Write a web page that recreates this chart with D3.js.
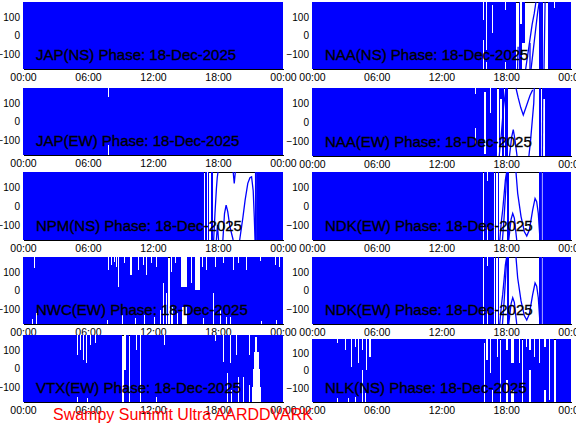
<!DOCTYPE html>
<html>
<head>
<meta charset="utf-8">
<script src="https://cdn.jsdelivr.net/npm/d3@7"></script>
<style>
  body { margin: 0; background: #fff; }
  svg { display: block; font-family: "Liberation Sans", Arial, sans-serif; }
</style>
</head>
<body>
<div id="chart"></div>
<script>
// panel names, left column top to bottom, then right column
var stations = ["JAP(NS)", "JAP(EW)", "NPM(NS)", "NWC(EW)", "VTX(EW)",
                "NAA(NS)", "NAA(EW)", "NDK(EW)", "NDK(EW)", "NLK(NS)"];
var dateLabel = "18-Dec-2025";
var xTickHours = [0, 6, 12, 18, 24];
var xTickLabels = ["00:00", "06:00", "12:00", "18:00", "00:00"];
var yTicks = [100, 0, -100];
var footer = "Swampy Summit Ultra AARDDVARK";

// where the phase trace leaves white: [startHour, endHour, lowDeg, highDeg]
var gapsJAPNS = [];
var gapsJAPEW = [[7.82, 7.9, 130, 180], [7.82, 7.9, -180, -128]];
var gapsNPMNS = [[16.72, 16.8, -180, 180], [16.95, 17.0, -180, 180], [17.2, 17.35, -180, 180],
                 [17.5, 21.58, -180, 180]];
var gapsNWCEW = [[0.84, 0.9, -180, -155], [1.02, 1.08, 119, 180], [1.23, 1.29, -180, -123],
  [7.77, 7.83, -180, -158], [7.85, 7.91, 110, 180], [8.16, 8.22, 137, 180], [8.37, 8.43, 155, 180],
  [8.62, 8.68, 128, 180], [8.77, 8.84, 21, 180], [9.17, 9.23, -180, -132], [9.3, 9.36, 146, 180],
  [9.86, 10.05, 83, 180], [10.31, 10.37, -180, -150], [10.62, 10.68, 110, 180], [11.07, 11.13, 137, 180],
  [11.14, 11.2, -180, -132], [11.39, 11.45, 83, 180], [11.85, 11.91, 146, 180], [12.07, 12.13, -180, -141],
  [12.31, 12.37, 128, 180], [12.62, 12.68, -180, -105], [12.95, 13.05, -180, 39], [13.2, 13.3, -180, -15],
  [13.4, 13.55, -180, 180], [13.7, 13.8, -180, -87], [13.7, 13.76, 100, 180], [14.0, 14.06, 146, 180],
  [14.17, 14.23, -180, -123], [14.6, 15.1, 21, 180], [14.7, 15.1, -180, -87], [15.55, 15.62, 39, 180],
  [15.85, 16.35, 3, 180], [16.48, 16.53, 128, 180], [16.63, 16.68, -180, -150], [16.93, 17.0, 110, 180],
  [17.55, 17.62, -180, -15], [17.7, 17.78, 128, 180], [18.17, 18.23, -180, -105], [18.47, 18.53, 146, 180],
  [18.77, 18.83, -180, -141], [19.08, 19.14, -180, -141], [19.4, 19.46, 110, 180], [19.85, 19.91, 146, 180],
  [20.62, 20.68, 110, 180], [21.85, 21.91, 160, 180], [22.01, 22.07, -180, -165], [23.24, 23.3, 137, 180],
  [23.39, 23.45, -180, -158], [23.64, 23.7, 128, 180]];
var gapsVTXEW = [[5.02, 5.08, 73, 180], [5.0, 5.06, -180, -151], [5.3, 5.36, 99, 180], [5.54, 5.62, 46, 180],
  [5.84, 5.9, 28, 180], [5.95, 6.0, -180, -160], [6.15, 6.21, 126, 180], [6.67, 6.73, 135, 180],
  [9.1, 9.35, -180, 180], [9.35, 9.5, -8, 180], [9.79, 9.85, -180, 180], [10.47, 10.53, 99, 180],
  [10.77, 10.83, -180, 180], [12.31, 12.37, -180, -151], [13.02, 13.08, 126, 180], [17.7, 17.76, 150, 180],
  [18.47, 18.53, 37, 180], [18.84, 18.9, -180, -26], [19.07, 19.13, 28, 180], [19.24, 19.3, -180, -116],
  [19.64, 19.72, 73, 180], [19.85, 19.91, -180, -44], [20.31, 20.37, -180, -44], [20.87, 20.95, 73, 180],
  [20.87, 20.95, -180, -89], [21.1, 21.95, -180, -100], [21.2, 21.85, -100, 0], [21.3, 21.75, 0, 90],
  [21.4, 21.6, 90, 170]];
var gapsNAANS = [[15.82, 15.9, 83, 180], [15.82, 15.9, -180, -25], [16.1, 16.2, -78, 180],
  [16.1, 16.2, -180, -140], [16.7, 16.78, 12, 164], [17.9, 17.98, 137, 180], [17.9, 17.98, -180, -140],
  [18.9, 19.2, -180, 180], [19.3, 19.45, 60, 180], [19.5, 19.7, -180, -40], [19.77, 21.07, -180, 180],
  [21.38, 21.84, -180, 180], [22.4, 22.46, 150, 180]];
var gapsNAAEW = [[15.1, 15.17, 150, 180], [15.1, 15.17, -120, -30], [15.95, 16.15, -170, 160],
  [16.45, 16.52, 46, 180], [17.1, 17.3, -180, 180], [17.45, 17.6, -180, 120], [17.75, 17.85, -180, 180],
  [18.15, 21.05, -180, 180], [21.2, 21.3, -180, 180], [21.45, 21.6, -180, 120]];
var gapsNDKEW = [[15.88, 15.96, -180, 180], [16.26, 16.32, 130, 180], [16.26, 16.32, -180, -110],
  [16.9, 17.0, -180, 180], [17.08, 17.2, -180, 180], [17.36, 18.05, -180, 180], [18.23, 21.07, -180, 180],
  [21.2, 21.26, -180, 180], [21.32, 21.38, -180, 180]];
var gapsNLKNS = [[2.35, 2.41, 155, 180], [2.35, 2.41, -180, -159], [3.06, 3.12, 117, 180], [3.62, 3.74, 22, 180],
  [3.3, 3.36, -180, -159], [4.0, 4.06, 136, 180], [4.3, 4.36, 41, 180], [4.0, 4.06, -180, -150],
  [4.65, 4.75, 117, 180], [4.65, 4.75, -180, 3], [4.97, 5.03, 3, 180], [4.92, 4.98, -180, -131],
  [5.3, 5.45, 79, 180], [15.93, 16.0, -180, 155], [16.15, 16.28, 60, 180], [16.45, 16.5, -16, 180],
  [16.65, 16.7, -180, -111], [17.1, 17.15, 79, 180], [17.4, 17.48, -180, 180], [17.98, 18.15, 117, 180],
  [17.98, 18.15, -180, -54], [18.4, 18.75, 41, 180], [18.4, 18.75, -180, -111], [19.2, 19.32, 41, 180],
  [19.45, 19.52, -180, 180], [19.8, 19.86, 136, 180], [20.1, 20.25, 117, 180], [20.1, 20.25, -180, 3],
  [20.55, 20.62, 79, 180], [21.0, 21.12, 41, 180], [21.5, 21.65, 136, 180], [21.5, 21.65, -180, -111],
  [21.95, 22.0, -170, 180], [22.45, 22.58, -180, 180]];

// phase traces visible inside the white stretches: [hour, deg]
var tracesNPMNS = [
  [[17.6, -180], [17.72, -40], [17.85, 90], [17.93, 150], [18.0, 180]],
  [[17.85, -180], [17.95, -100], [18.05, -180]],
  [[18.45, -180], [18.6, -40], [18.75, 5], [18.9, -30], [19.1, -110], [19.4, -180]],
  [[19.4, 180], [19.5, 120], [19.6, 180]],
  [[20.0, -180], [20.3, -60], [20.5, 30], [20.75, 120], [20.95, 150], [21.1, 155], [21.25, 80], [21.35, -60], [21.42, -180]],
  [[21.47, -180], [21.47, 180]],
  [[21.53, -180], [21.53, 180]]];
var tracesNAANS = [
  [[19.05, -180], [19.1, -60]],
  [[19.8, -180], [20.1, -60], [20.4, 60], [20.6, 120], [20.75, 180]],
  [[20.3, -180], [20.5, -80], [20.7, 20], [20.9, 120], [21.05, 180]],
  [[20.2, -180], [20.2, -40]],
  [[21.5, -180], [21.55, 0], [21.6, 180]]];
var tracesNAAEW = [
  [[17.35, -180], [17.55, -60], [17.75, 80], [17.95, 170]],
  [[18.3, -180], [18.5, -80], [18.65, -40], [18.8, -90], [19.0, -180]],
  [[18.9, 180], [19.1, 130], [19.35, 75], [19.58, 37], [19.9, 90], [20.2, 140], [20.45, 170]],
  [[20.6, 180], [20.55, 100], [20.4, 0], [20.25, -100], [20.1, -180]],
  [[21.35, -180], [21.38, 180]]];
var tracesNDKEW = [
  [[17.4, -180], [17.55, -80], [17.67, -21], [17.8, 60], [17.92, 138], [18.04, 180]],
  [[17.65, -180], [17.8, -60], [17.95, 80], [18.05, 180]],
  [[18.23, -180], [18.45, -70], [18.6, -39], [18.75, -64], [18.97, -180]],
  [[18.9, 180], [19.06, 67], [19.37, -56], [19.68, -136], [19.9, -159], [20.14, -127], [20.45, -21],
   [20.67, 40], [20.82, 23], [20.97, -39], [21.13, -180]],
  [[21.18, -180], [21.18, 180]],
  [[21.29, -180], [21.29, 180]]];

var panels = [
  { name: stations[0], gaps: gapsJAPNS, traces: [] },
  { name: stations[1], gaps: gapsJAPEW, traces: [] },
  { name: stations[2], gaps: gapsNPMNS, traces: tracesNPMNS },
  { name: stations[3], gaps: gapsNWCEW, traces: [] },
  { name: stations[4], gaps: gapsVTXEW, traces: [] },
  { name: stations[5], gaps: gapsNAANS, traces: tracesNAANS },
  { name: stations[6], gaps: gapsNAAEW, traces: tracesNAAEW },
  { name: stations[7], gaps: gapsNDKEW, traces: tracesNDKEW },
  { name: stations[8], gaps: gapsNDKEW, traces: tracesNDKEW },
  { name: stations[9], gaps: gapsNLKNS, traces: [] }
];

// plot boxes in pixels
var colX = [[23, 283], [312, 571]];
var rowY = [
  [[2, 69], [88, 155], [172, 240], [257, 324], [335, 402]],
  [[2, 69], [88, 156], [172, 240], [257, 324], [339, 402]]
];

var svg = d3.select("#chart").append("svg")
  .attr("width", 576)
  .attr("height", 432);

var line = d3.line();

panels.forEach(function(p, i) {
  var col = i < 5 ? 0 : 1;
  var row = i % 5;
  var x = d3.scaleLinear().domain([0, 24]).range(colX[col]);
  var y = d3.scaleLinear().domain([-180, 180]).range([rowY[col][row][1], rowY[col][row][0]]);

  var g = svg.append("g").attr("shape-rendering", "crispEdges");

  // phase trace wraps so fast it fills the whole box
  g.append("rect")
    .attr("x", x(0))
    .attr("y", y(180))
    .attr("width", x(24) - x(0))
    .attr("height", y(-180) - y(180))
    .attr("fill", "#0000ff");

  g.selectAll("rect.gap")
    .data(p.gaps)
    .enter()
    .append("rect")
    .attr("class", "gap")
    .attr("x", d => x(d[0]))
    .attr("y", d => y(d[3]))
    .attr("width", d => Math.max(1, x(d[1]) - x(d[0])))
    .attr("height", d => y(d[2]) - y(d[3]))
    .attr("fill", "#fff");

  // frame top shows through where the box is empty
  g.selectAll("line.top")
    .data(p.gaps.filter(d => d[3] >= 180 && d[2] <= -180))
    .enter()
    .append("line")
    .attr("x1", d => x(d[0]))
    .attr("x2", d => x(d[1]))
    .attr("y1", y(180) + 0.5)
    .attr("y2", y(180) + 0.5)
    .attr("stroke", "#000");

  svg.append("g")
    .selectAll("path")
    .data(p.traces)
    .enter()
    .append("path")
    .attr("d", d => line(d.map(v => [x(v[0]), y(v[1])])))
    .attr("fill", "none")
    .attr("stroke", "#0000ff")
    .attr("stroke-width", 1.3);

  // x axis along the bottom
  var xAxis = g.append("g")
    .attr("transform", `translate(0, ${y(-180)})`)
    .call(d3.axisBottom(x)
      .tickValues(xTickHours)
      .tickFormat((d, k) => xTickLabels[k])
      .tickSize(0)
      .tickSizeOuter(0)
      .tickPadding(5));
  xAxis.select(".domain").attr("stroke", "#000");
  xAxis.selectAll("text")
    .attr("font-size", "10.5px")
    .attr("font-family", "Liberation Sans, Arial, sans-serif")
    .attr("fill", "#000");

  var yAxis = g.append("g")
    .attr("transform", `translate(${x(0)}, 0)`)
    .call(d3.axisLeft(y).tickValues(yTicks).tickSize(0).tickPadding(3));
  yAxis.select(".domain").remove();
  yAxis.selectAll("text")
    .attr("font-size", "10px")
    .attr("font-family", "Liberation Sans, Arial, sans-serif")
    .attr("fill", "#000");

  svg.append("text")
    .attr("x", x(0) + 13)
    .attr("y", y(-180) - 9.5)
    .attr("font-size", "15px")
    .attr("fill", "#000")
    .attr("stroke", "#000")
    .attr("stroke-width", 0.35)
    .text(p.name + " Phase: " + dateLabel);
});

svg.append("text")
  .attr("x", 53)
  .attr("y", 420)
  .attr("font-size", "17px")
  .attr("fill", "#ff0000")
  .attr("textLength", 260)
  .attr("lengthAdjust", "spacingAndGlyphs")
  .text(footer);
</script>
</body>
</html>
